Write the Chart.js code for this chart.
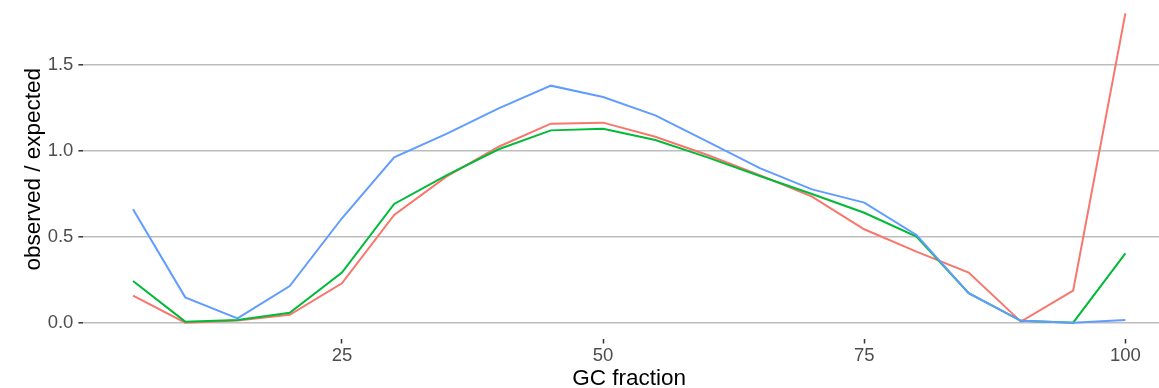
<!DOCTYPE html>
<html>
<head>
<meta charset="utf-8">
<script src="https://cdn.jsdelivr.net/npm/chart.js@4/dist/chart.umd.min.js"></script>
<style>
  html, body { margin: 0; padding: 0; background: #fff; overflow: hidden; }
  #wrap { position: relative; width: 1175px; height: 392px; }
</style>
</head>
<body>
<div id="wrap"><canvas id="gcChart"></canvas></div>
<script>
// GC bins (percent) and observed/expected ratio per sample
const gcBins = [5, 10, 15, 20, 25, 30, 35, 40, 45, 50, 55, 60, 65, 70, 75, 80, 85, 90, 95, 100];
const redRatio = [0.159, 0.002, 0.015, 0.048, 0.231, 0.628, 0.851, 1.025, 1.159, 1.165, 1.083, 0.977, 0.860, 0.735, 0.545, 0.415, 0.293, 0.008, 0.188, 1.800];
const greenRatio = [0.244, 0.008, 0.017, 0.060, 0.293, 0.692, 0.858, 1.010, 1.120, 1.130, 1.064, 0.963, 0.855, 0.750, 0.641, 0.502, 0.173, 0.013, 0.002, 0.405];
const blueRatio = [0.661, 0.149, 0.027, 0.215, 0.609, 0.963, 1.100, 1.248, 1.380, 1.314, 1.207, 1.054, 0.900, 0.777, 0.700, 0.512, 0.173, 0.013, 0.002, 0.017];
const xTickStep = 25;
const yTickStep = 0.5;

function points(values) {
    return gcBins.map(function(x, i) { return { x: x, y: values[i] }; });
}

const tickFont = { family: "'Liberation Sans', Arial, sans-serif", size: 18.5 };
const titleFont = { family: "'Liberation Sans', Arial, sans-serif", size: 22.5 };

function line(label, values, color, order) {
    return {
        label: label,
        data: points(values),
        borderColor: color,
        backgroundColor: color,
        borderWidth: 2,
        pointRadius: 0,
        tension: 0,
        order: order
    };
}

new Chart(document.getElementById('gcChart'), {
    type: 'line',
    data: {
        datasets: [
            line('sample 1', redRatio, '#F8766D', 2),
            line('sample 2', greenRatio, '#00BA38', 1),
            line('sample 3', blueRatio, '#619CFF', 0)
        ]
    },
    options: {
        responsive: true,
        maintainAspectRatio: false,
        animation: false,
        devicePixelRatio: 1,
        layout: { padding: 0 },
        plugins: {
            legend: { display: false },
            tooltip: { enabled: false }
        },
        scales: {
            x: {
                type: 'linear',
                min: 0.25,
                max: 104.75,
                border: { display: false },
                grid: {
                    drawOnChartArea: false,
                    drawTicks: true,
                    tickLength: 5,
                    tickColor: '#333333',
                    tickWidth: 1.5
                },
                ticks: {
                    stepSize: xTickStep,
                    includeBounds: false,
                    maxRotation: 0,
                    padding: 1,
                    color: '#4d4d4d',
                    font: tickFont
                },
                title: {
                    display: true,
                    text: 'GC fraction',
                    color: '#000000',
                    font: titleFont,
                    padding: { top: 0, bottom: 0 }
                },
                afterFit: function(scale) {
                    scale.height = 53.5;
                    scale.paddingLeft = 0;
                    scale.paddingRight = 0;
                }
            },
            y: {
                min: -0.0901,
                max: 1.878,
                border: { display: false },
                grid: {
                    color: '#bdbdbd',
                    lineWidth: 1.6,
                    drawTicks: true,
                    tickLength: 5,
                    tickColor: '#333333',
                    tickWidth: 1.5
                },
                ticks: {
                    stepSize: yTickStep,
                    includeBounds: false,
                    padding: 5,
                    color: '#4d4d4d',
                    font: tickFont,
                    callback: function(v) { return v.toFixed(1); }
                },
                title: {
                    display: true,
                    text: 'observed / expected',
                    color: '#000000',
                    font: titleFont,
                    padding: { top: 20, bottom: 0 }
                },
                afterFit: function(scale) {
                    scale.width = 83.4;
                    scale.paddingTop = 0;
                    scale.paddingBottom = 0;
                }
            }
        }
    }
});
</script>
</body>
</html>
